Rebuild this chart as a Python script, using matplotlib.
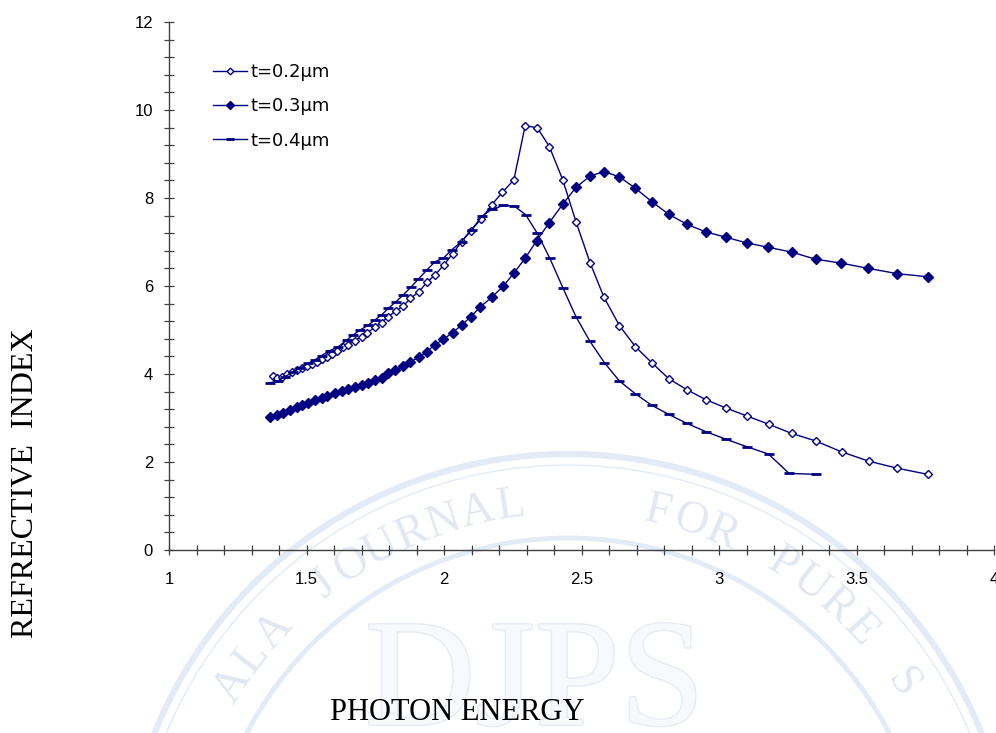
import numpy as np
import matplotlib
matplotlib.use('Agg')
import matplotlib.pyplot as plt
from matplotlib.patches import Circle
from matplotlib.ticker import MultipleLocator
import matplotlib.patheffects as pe

# Photon energy (eV) and refractive index for each film thickness
e_02 = [1.377, 1.392, 1.41, 1.428, 1.446, 1.464, 1.482, 1.50, 1.519, 1.537,
        1.555, 1.573, 1.591, 1.61, 1.631, 1.652, 1.676, 1.70, 1.721, 1.749,
        1.773, 1.797, 1.824, 1.852, 1.878, 1.909, 1.937, 1.967, 2.0, 2.031,
        2.064, 2.097, 2.135, 2.173, 2.212, 2.254, 2.295, 2.339, 2.383, 2.432,
        2.48, 2.531, 2.582, 2.638, 2.696, 2.755, 2.818, 2.884, 2.951, 3.024,
        3.10, 3.18, 3.264, 3.351, 3.446, 3.544, 3.647, 3.759]
n_02 = [3.96, 3.90, 3.94, 3.99, 4.04, 4.08, 4.13, 4.18, 4.22, 4.28,
        4.34, 4.39, 4.45, 4.53, 4.61, 4.67, 4.76, 4.85, 4.94, 5.06,
        5.17, 5.30, 5.43, 5.55, 5.72, 5.87, 6.08, 6.25, 6.48, 6.73,
        7.01, 7.26, 7.52, 7.84, 8.13, 8.41, 9.64, 9.60, 9.17, 8.41,
        7.46, 6.53, 5.74, 5.10, 4.62, 4.26, 3.89, 3.64, 3.42, 3.23,
        3.05, 2.86, 2.65, 2.48, 2.23, 2.02, 1.86, 1.72]

e_03 = [1.367, 1.392, 1.416, 1.44, 1.464, 1.482, 1.507, 1.531, 1.555, 1.573,
        1.604, 1.628, 1.652, 1.676, 1.70, 1.725, 1.749, 1.773, 1.797, 1.822,
        1.852, 1.878, 1.909, 1.937, 1.967, 1.998, 2.031, 2.064, 2.097, 2.131,
        2.173, 2.216, 2.255, 2.295, 2.337, 2.383, 2.432, 2.48, 2.531, 2.582,
        2.638, 2.696, 2.755, 2.817, 2.884, 2.952, 3.024, 3.10, 3.179, 3.264,
        3.351, 3.444, 3.543, 3.649, 3.759]
n_03 = [3.03, 3.07, 3.11, 3.18, 3.24, 3.30, 3.35, 3.41, 3.45, 3.50,
        3.56, 3.62, 3.65, 3.70, 3.75, 3.80, 3.86, 3.92, 4.02, 4.09,
        4.18, 4.28, 4.38, 4.51, 4.66, 4.79, 4.94, 5.11, 5.30, 5.52,
        5.74, 6.00, 6.30, 6.63, 7.03, 7.44, 7.86, 8.24, 8.50, 8.60,
        8.48, 8.22, 7.92, 7.63, 7.40, 7.23, 7.11, 6.98, 6.88, 6.77,
        6.61, 6.52, 6.40, 6.28, 6.21]

e_04 = [1.367, 1.395, 1.422, 1.452, 1.476, 1.507, 1.531, 1.555, 1.585, 1.616,
        1.646, 1.67, 1.695, 1.725, 1.749, 1.773, 1.797, 1.825, 1.852, 1.879,
        1.906, 1.937, 1.967, 1.997, 2.028, 2.064, 2.10, 2.137, 2.173, 2.216,
        2.255, 2.297, 2.339, 2.384, 2.433, 2.48, 2.531, 2.583, 2.638, 2.696,
        2.755, 2.818, 2.882, 2.952, 3.024, 3.10, 3.18, 3.255, 3.352]
n_04 = [3.80, 3.84, 3.94, 4.05, 4.13, 4.24, 4.32, 4.42, 4.53, 4.62,
        4.77, 4.89, 5.00, 5.11, 5.23, 5.34, 5.49, 5.64, 5.80, 5.97,
        6.15, 6.36, 6.55, 6.63, 6.82, 7.01, 7.27, 7.58, 7.74, 7.83,
        7.82, 7.62, 7.20, 6.64, 5.95, 5.30, 4.74, 4.26, 3.84, 3.55,
        3.29, 3.08, 2.88, 2.69, 2.52, 2.35, 2.18, 1.74, 1.72]

labels = ['t=0.2\u00b5m', 't=0.3\u00b5m', 't=0.4\u00b5m']
navy = '#000080'

fig = plt.figure(figsize=(9.96, 7.33), dpi=100)

# faint journal seal behind the chart (pixel coordinates)
wm = fig.add_axes([0, 0, 1, 1], zorder=0)
wm.set_xlim(0, 996)
wm.set_ylim(733, 0)
wm.axis('off')
seal = '#e3ebf7'
cx, cy = 568, 900
for r, lw in [(446, 4.5), (435, 1.0), (362, 3.5)]:
    wm.add_patch(Circle((cx, cy), r, fill=False, ec=seal, lw=lw))


def arc_text(text, start, step, r=398):
    for i, ch in enumerate(text):
        th = np.radians(start + i * step)
        x = cx + r * np.sin(th)
        y = cy - r * np.cos(th)
        if y > 712:
            continue
        wm.text(x, y, ch, rotation=-np.degrees(th), ha='center', va='center',
                family='Liberation Serif', fontsize=33, color='#e2e8f2')


arc_text('DIYALA JOURNAL', -72.0, 4.9)
arc_text('FOR PURE SCIENCES', 13.0, 4.9)
wm.text(535, 688, 'DJPS', ha='center', va='center', family='Liberation Serif',
        fontsize=110, color='#f7f9fc',
        path_effects=[pe.withStroke(linewidth=2.0, foreground='#e6ecf5')])

ax = fig.add_axes([169 / 996, 1 - 550 / 733, 825 / 996, 528 / 733], zorder=1)
ax.patch.set_alpha(0)

ax.plot(e_02, n_02, color=navy, lw=1.0, marker='D', ms=4.5, mfc='white',
        mec=navy, mew=1.0, label=labels[0])
ax.plot(e_03, n_03, color=navy, lw=1.0, marker='D', ms=5.5, mfc=navy,
        mec=navy, label=labels[1])
ax.plot(e_04, n_04, color=navy, lw=1.0, marker='_', ms=7, mew=2.0,
        mec=navy, label=labels[2])

ax.set_xlim(1, 4)
ax.set_ylim(0, 12)
ax.xaxis.set_major_locator(MultipleLocator(0.5))
ax.xaxis.set_minor_locator(MultipleLocator(0.1))
ax.yaxis.set_major_locator(MultipleLocator(2))
ax.yaxis.set_minor_locator(MultipleLocator(0.4))
ax.xaxis.set_major_formatter(plt.FuncFormatter(lambda v, p: '%g' % v))

for s in ['top', 'right']:
    ax.spines[s].set_visible(False)
for s in ['left', 'bottom']:
    ax.spines[s].set_color('#404040')
    ax.spines[s].set_linewidth(1.0)
ax.tick_params(which='both', direction='inout', length=7, width=0.9,
               color='#404040', labelsize=12, labelfontfamily='Liberation Sans')
ax.tick_params(axis='x', which='both', pad=12)
ax.tick_params(axis='y', which='both', pad=8)

ax.set_xlabel('PHOTON ENERGY', family='Liberation Serif', fontsize=22,
              va='center', ha='center')
ax.xaxis.set_label_coords(0.349, -0.307)
ax.set_ylabel('REFRECTIVE  INDEX', family='Liberation Serif', fontsize=23,
              va='center', ha='center')
ax.yaxis.set_label_coords(-0.174, 0.127)

leg = ax.legend(loc='upper left', bbox_to_anchor=(0.053, 0.922), frameon=False,
                prop={'family': 'DejaVu Sans', 'size': 13}, handlelength=1.9,
                handletextpad=0.2, labelspacing=0.9, markerscale=0.75,
                borderpad=0, borderaxespad=0)

fig.savefig('out.png', dpi=100)
